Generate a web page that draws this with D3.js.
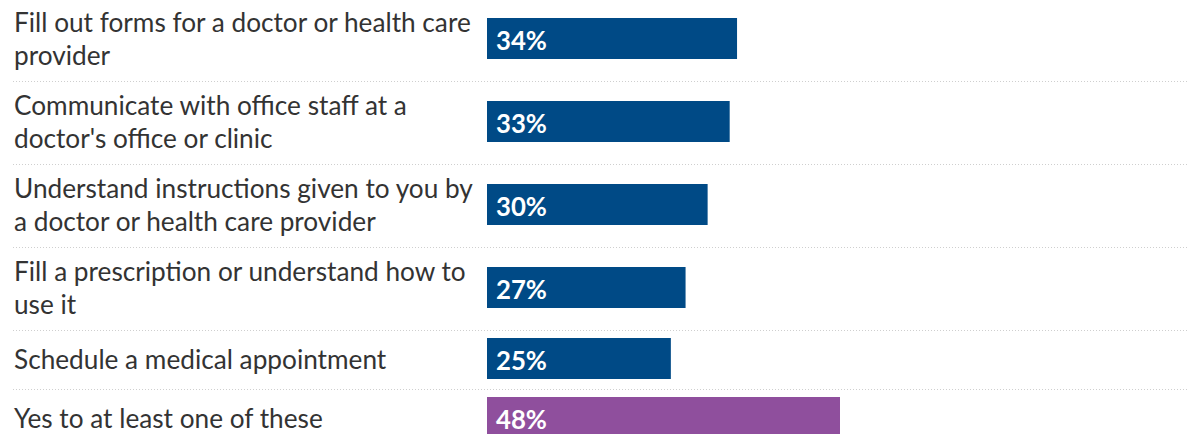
<!DOCTYPE html>
<html>
<head>
<meta charset="utf-8">
<script src="https://cdn.jsdelivr.net/npm/d3@7"></script>
<style>
  html, body { margin: 0; padding: 0; background: #fff; overflow: hidden; }
  svg { display: block; }
</style>
</head>
<body>
<svg id="chart" width="1188" height="434"></svg>
<script>
// ---- data ----
const categories = [
  ["Fill out forms for a doctor or health care", "provider"],
  ["Communicate with office staff at a", "doctor's office or clinic"],
  ["Understand instructions given to you by", "a doctor or health care provider"],
  ["Fill a prescription or understand how to", "use it"],
  ["Schedule a medical appointment"],
  ["Yes to at least one of these"]
];
const values = [34, 33, 30, 27, 25, 48];
const valueLabels = ["34%", "33%", "30%", "27%", "25%", "48%"];
const groups = ["item", "item", "item", "item", "item", "total"];

// ---- layout / style ----
const W = 1188, H = 434;
const top0 = -2;
const lineH = 33;
const barH = 41;
const labelX = 14;
const barX0 = 487;
const colors = { item: "#004a86", total: "#8f4f9d" };
const fontFamily = "Lato, 'Noto Sans', sans-serif";

const svg = d3.select("#chart");

// row heights depend on number of text lines
const rowH = categories.map(c => Math.max(59, c.length * lineH + 17));
const rowTop = [];
let acc = top0;
rowH.forEach(h => { rowTop.push(acc); acc += h; });

const x = d3.scaleLinear().domain([0, 48]).range([barX0, 840]);

// fit label font size to reference text width
const probe = svg.append("text").attr("font-family", fontFamily).attr("font-size", 24)
  .text("Understand instructions given to you by");
const probeW = probe.node().getComputedTextLength();
probe.remove();
const labelSize = 24 * 459 / probeW;

const probe2 = svg.append("text").attr("font-family", fontFamily).attr("font-size", 24)
  .attr("font-weight", 700).text("34%");
const probe2W = probe2.node().getComputedTextLength();
probe2.remove();
const valueSize = 24 * 51 / probe2W;

const rows = svg.selectAll("g.row").data(values.map((v, i) => ({
  v, i, lines: categories[i], label: valueLabels[i], group: groups[i],
  top: rowTop[i], h: rowH[i]
}))).join("g").attr("class", "row");

// separators
rows.filter(d => d.i < values.length - 1).append("line")
  .attr("x1", 13).attr("x2", W)
  .attr("y1", d => d.top + d.h + 0.5).attr("y2", d => d.top + d.h + 0.5)
  .attr("stroke", "#cfcfcf").attr("stroke-width", 1)
  .attr("stroke-dasharray", "1,2");

// category labels
rows.append("text")
  .attr("font-family", fontFamily)
  .attr("font-size", labelSize)
  .attr("fill", "#333")
  .each(function(d) {
    const c = d.top + d.h / 2;
    const n = d.lines.length;
    d3.select(this).selectAll("tspan").data(d.lines).join("tspan")
      .attr("x", labelX)
      .attr("y", (t, j) => c + 9 + (j - (n - 1) / 2) * lineH)
      .text(t => t);
  });

// bars
rows.append("rect")
  .attr("x", x(0))
  .attr("y", d => d.top + d.h / 2 - barH / 2 - 1)
  .attr("width", d => x(d.v) - x(0))
  .attr("height", barH)
  .attr("fill", d => colors[d.group]);

// value labels
rows.append("text")
  .attr("x", x(0) + 9)
  .attr("y", d => d.top + d.h / 2 + 10)
  .attr("font-family", fontFamily)
  .attr("font-size", valueSize)
  .attr("font-weight", 700)
  .attr("fill", "#fff")
  .text(d => d.label);
</script>
</body>
</html>
